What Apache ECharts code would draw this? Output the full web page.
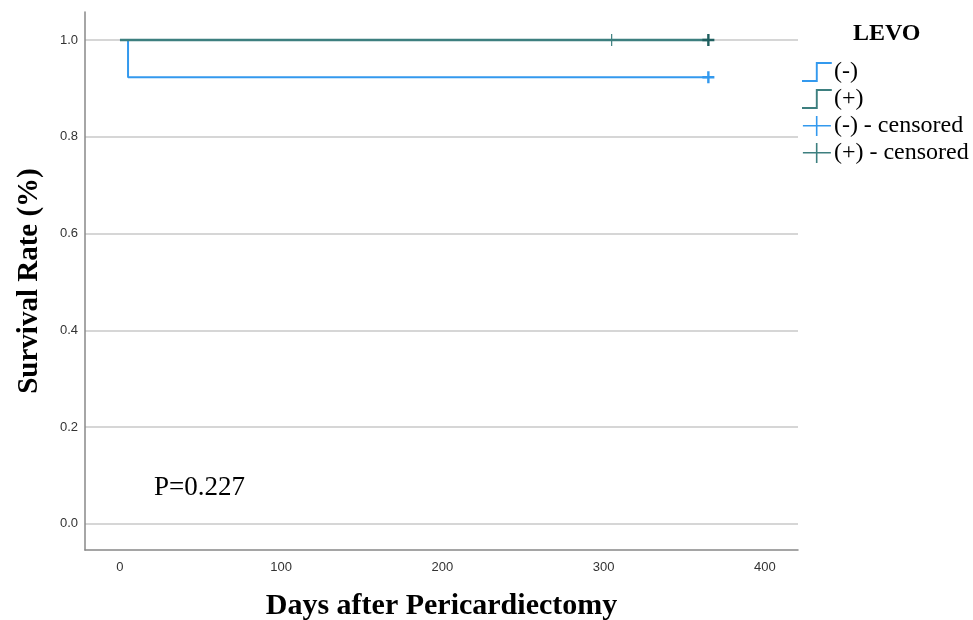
<!DOCTYPE html>
<html><head><meta charset="utf-8">
<script src="https://cdn.jsdelivr.net/npm/echarts@6/dist/echarts.min.js"></script>
<style>html,body{margin:0;padding:0;background:#fff}#c{width:973px;height:620px}</style>
</head><body><div id="c"></div>
<script>
// Kaplan-Meier data (days, survival)
var negSteps = [[0, 1.0], [5, 0.923], [365, 0.923]];
var posSteps = [[0, 1.0], [365, 1.0]];
var negCensored = [[365, 0.923]];
var posCensored = [[305, 1.0], [365, 1.0]];
var xTicks = [0, 100, 200, 300, 400];
var yTicks = [0.0, 0.2, 0.4, 0.6, 0.8, 1.0];
var pText = 'P=0.227';

var blue = '#3399ee';
var teal = '#3d7f7f';
var tealDark = '#1f5f5f';
var plus = 'path://M4,0h2v4h4v2h-4v4h-2v-4h-4v-2h4z';
var thinPlus = 'path://M4.5,0h1v4.5h4.5v1h-4.5v4.5h-1v-4.5h-4.5v-1h4.5z';
var legendPlus = 'path://M0,9h13v-9h1.6v9h13.4v1.6h-13.4v9.4h-1.6v-9.4h-13z';
var stepIcon = 'path://M0,17h13v-17h15v1.8h-13.2v17h-14.8z';

var chart = echarts.init(document.getElementById('c'));
chart.setOption({
  animation: false,
  backgroundColor: '#fff',
  grid: {left: 85, right: 175, top: 12, bottom: 70, outerBoundsMode: 'none', containLabel: false},
  title: {
    text: 'LEVO', left: 848, top: 17,
    textStyle: {fontFamily: 'Liberation Serif', fontWeight: 'bold', fontSize: 24, color: '#000'}
  },
  legend: {
    orient: 'vertical', left: 797, top: 55, itemGap: 3,
    itemWidth: 30, itemHeight: 20,
    textStyle: {fontFamily: 'Liberation Serif', fontSize: 24, color: '#000', padding: [0, 0, 0, -3]},
    data: [
      {name: '(-)', icon: stepIcon},
      {name: '(+)', icon: stepIcon},
      {name: '(-) - censored', icon: legendPlus},
      {name: '(+) - censored', icon: legendPlus}
    ]
  },
  xAxis: {
    type: 'value', min: -21.7, max: 420.6,
    name: 'Days after Pericardiectomy', nameLocation: 'middle', nameGap: 41,
    nameTextStyle: {fontFamily: 'Liberation Serif', fontWeight: 'bold', fontSize: 30, color: '#000'},
    axisLine: {show: true, onZero: false, lineStyle: {color: '#888', width: 1.5}},
    axisTick: {show: false, customValues: xTicks},
    splitLine: {show: false},
    axisLabel: {
      customValues: xTicks, margin: 11,
      fontFamily: 'Liberation Sans', fontSize: 13, color: '#333'
    }
  },
  yAxis: {
    type: 'value', min: -0.054, max: 1.058,
    name: 'Survival Rate (%)', nameLocation: 'middle', nameGap: 41,
    nameTextStyle: {fontFamily: 'Liberation Serif', fontWeight: 'bold', fontSize: 29, color: '#000'},
    axisLine: {show: true, onZero: false, lineStyle: {color: '#888', width: 1.5}},
    axisTick: {show: false, customValues: yTicks},
    splitLine: {show: true, lineStyle: {color: '#c8c8c8', width: 1.5}},
    axisLabel: {
      customValues: yTicks, margin: 7,
      fontFamily: 'Liberation Sans', fontSize: 13, color: '#333',
      formatter: function (v) { return Number(v).toFixed(1); }
    }
  },
  graphic: [{
    type: 'text', left: 154, top: 474,
    style: {text: pText, fontFamily: 'Liberation Serif', fontSize: 27, fill: '#000'}
  }],
  series: [
    {name: '(-)', type: 'line', step: 'end', data: negSteps, showSymbol: false, symbol: 'none',
     itemStyle: {color: blue}, lineStyle: {color: blue, width: 2}, z: 3},
    {name: '(+)', type: 'line', step: 'end', data: posSteps, showSymbol: false, symbol: 'none',
     itemStyle: {color: teal}, lineStyle: {color: teal, width: 2.5}, z: 4},
    {name: '(-) - censored', type: 'scatter', data: negCensored, symbol: plus, symbolSize: 12,
     itemStyle: {color: blue, opacity: 1}, z: 5},
    {name: '(+) - censored', type: 'scatter',
     data: posCensored.map(function (d, i) {
       return i === posCensored.length - 1
         ? {value: d, symbol: plus, symbolSize: 12, itemStyle: {color: tealDark}}
         : {value: d, symbol: thinPlus, symbolSize: 12, itemStyle: {color: teal}};
     }),
     itemStyle: {color: teal, opacity: 1}, z: 6}
  ]
});
</script></body></html>
